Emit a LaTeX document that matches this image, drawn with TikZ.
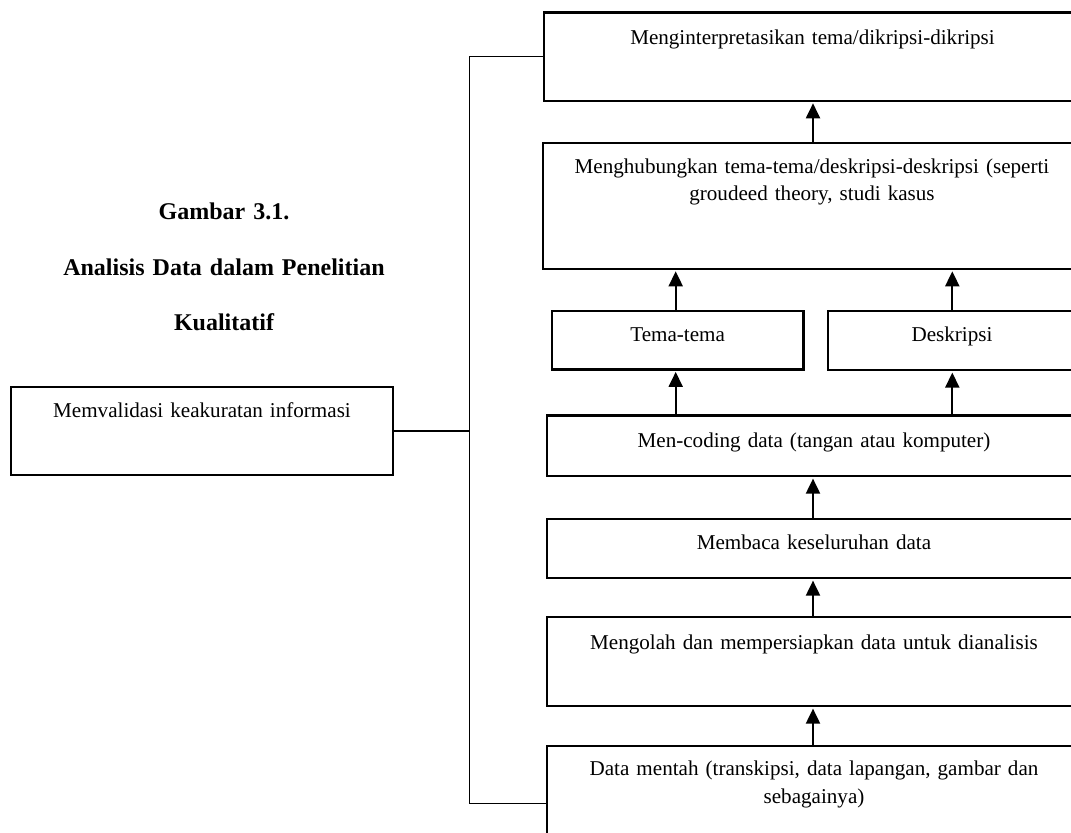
\documentclass[tikz,border=0pt]{standalone}
\usepackage{fontspec}
\setmainfont{Liberation Serif}
\usetikzlibrary{arrows.meta}
\begin{document}
\begin{tikzpicture}[x=0.5pt,y=-0.5pt,
  box/.style={draw, line width=1.2pt, inner sep=0pt, outer sep=0pt, anchor=north west,
    align=center, font=\fontsize{10.55}{13.75}\selectfont},
  title/.style={inner sep=0pt, outer sep=0pt, align=center, text width=200pt,
    font=\bfseries\fontsize{12}{27.75}\selectfont},
  arr/.style={line width=1pt, -{Triangle[length=7.5pt,width=7pt]}, shorten >=1.3pt},
  conn/.style={line width=0.55pt}]
\path[use as bounding box] (0,0) rectangle (1071,832);
\clip (0,0) rectangle (1071,832);

% boxes
\node[box, text width=268.5pt, text height=16pt, text depth=28.2pt] (T1) at (544,12.3)
  {Menginterpretasikan tema/dikripsi-dikripsi};
\node[box, text width=269pt, text height=15.15pt, text depth=47.85pt] (M2) at (543,142.7)
  {Menghubungkan tema-tema/deskripsi-deskripsi (seperti\\groudeed theory, studi kasus};
\node[box, text width=125.65pt, text height=15pt, text depth=14.15pt] (Tm) at (552,311)
  {Tema-tema};
\node[box, text width=124.3pt, text height=15pt, text depth=14.5pt] (Ds) at (827.7,311)
  {Deskripsi};
\node[box, text width=267pt, text height=16pt, text depth=14.25pt] (Cd) at (547,415.5)
  {Men-coding data (tangan atau komputer)};
\node[box, text width=267pt, text height=15.15pt, text depth=14.5pt] (Mb) at (547,518.7)
  {Membaca keseluruhan data};
\node[box, text width=267pt, text height=16pt, text depth=28.5pt] (Mo) at (547,617)
  {Mengolah dan mempersiapkan data untuk dianalisis};
\node[box, text width=267pt, text height=14.85pt, text depth=42.65pt] (D) at (547,746)
  {Data mentah (transkipsi, data lapangan, gambar dan\\sebagainya)};
\node[box, text width=191pt, text height=15.2pt, text depth=28.8pt] (V) at (11,387)
  {Memvalidasi keakuratan informasi};

% title
\node[title, anchor=base] (ttl) at (224,219.5)
  {Gambar 3.1.\\Analisis Data dalam Penelitian\\Kualitatif};

% arrow columns
\coordinate (cx) at (813,0);
\coordinate (lx) at (675.7,0);
\coordinate (rx) at (952.3,0);

\draw[arr] (M2.north -| cx) -- (T1.south -| cx);
\draw[arr] (Tm.north -| lx) -- (M2.south -| lx);
\draw[arr] (Ds.north -| rx) -- (M2.south -| rx);
\draw[arr] (Cd.north -| lx) -- (Tm.south -| lx);
\draw[arr] (Cd.north -| rx) -- (Ds.south -| rx);
\draw[arr] (Mb.north -| cx) -- (Cd.south -| cx);
\draw[arr] (Mo.north -| cx) -- (Mb.south -| cx);
\draw[arr] (D.north -| cx) -- (Mo.south -| cx);

% left connector
\coordinate (bus) at (469.3,431);
\draw[conn] (T1.west) -- (T1.west -| bus) -- (D.west -| bus) -- (D.west);
\draw[conn] (V.east) -- (V.east -| bus);
\end{tikzpicture}
\end{document}
